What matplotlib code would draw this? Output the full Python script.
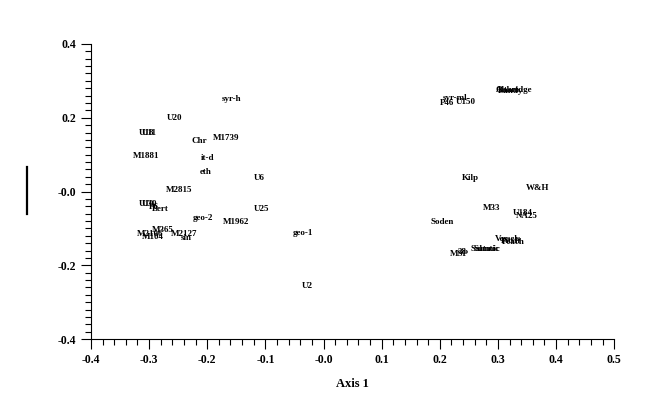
import numpy as np
import matplotlib.pyplot as plt
from matplotlib.lines import Line2D
from matplotlib.ticker import MultipleLocator, FuncFormatter

plt.rcParams['font.family'] = ['Liberation Serif', 'DejaVu Serif']
plt.rcParams['font.weight'] = 'bold'

names = ['syr-h', 'U20', 'U18', 'U11', 'Chr', 'M1739', 'M1881', 'it-d', 'eth', 'U6',
         'M2815', 'U10', 'U30', 'P6', 'Bert', 'U25', 'geo-2', 'M1962', 'geo-1',
         'M365', 'M2106', 'M104', 'M2127', 'sin', 'U2',
         'syr-ml', 'P46', 'U150', 'Altam', 'Oakridge', 'Lundy',
         'Kilp', 'W&H', 'M33', 'U184', 'NA25', 'Soden',
         'Vessels', 'Pitch', 'Peach', 'MSP', '38', 'Salmtic', 'Sutmic']
axis1 = [-0.159, -0.257, -0.304, -0.300, -0.214, -0.168, -0.305, -0.200, -0.202, -0.111,
         -0.249, -0.304, -0.299, -0.292, -0.280, -0.107, -0.207, -0.150, -0.035,
         -0.276, -0.299, -0.294, -0.240, -0.236, -0.028,
         0.226, 0.213, 0.244, 0.318, 0.327, 0.322,
         0.252, 0.368, 0.289, 0.343, 0.349, 0.204,
         0.317, 0.322, 0.327, 0.233, 0.238, 0.278, 0.282]
axis2 = [0.251, 0.199, 0.159, 0.159, 0.137, 0.145, 0.096, 0.091, 0.053, 0.037,
         0.004, -0.035, -0.035, -0.043, -0.048, -0.048, -0.072, -0.083, -0.113,
         -0.104, -0.114, -0.122, -0.116, -0.126, -0.256,
         0.254, 0.240, 0.243, 0.274, 0.274, 0.273,
         0.037, 0.009, -0.045, -0.058, -0.066, -0.083,
         -0.128, -0.133, -0.138, -0.170, -0.164, -0.156, -0.156]

fig = plt.figure(figsize=(6.64, 4.13), dpi=100)
ax = fig.add_axes([0.137, 0.179, 0.788, 0.7145])

for n, x, y in zip(names, axis1, axis2):
    ax.text(x, y, n, fontsize=6.5, fontweight='bold', ha='center', va='center')

ax.set_xlim(-0.4, 0.5)
ax.set_ylim(-0.4, 0.4)
ax.xaxis.set_major_locator(MultipleLocator(0.1))
ax.xaxis.set_minor_locator(MultipleLocator(0.02))
ax.yaxis.set_major_locator(MultipleLocator(0.2))
ax.yaxis.set_minor_locator(MultipleLocator(0.02))

def fmt(v, pos):
    s = f'{v:.1f}'
    return '-0.0' if abs(v) < 1e-9 else s

ax.xaxis.set_major_formatter(FuncFormatter(fmt))
ax.yaxis.set_major_formatter(FuncFormatter(fmt))
ax.tick_params(which='major', direction='out', length=7, width=0.8, labelsize=8.5)
ax.tick_params(which='minor', direction='out', length=4, width=0.8)
for s in ['top', 'right']:
    ax.spines[s].set_visible(False)
for lbl in ax.get_xticklabels() + ax.get_yticklabels():
    lbl.set_fontweight('bold')

ax.set_xlabel('Axis 1', fontsize=9, fontweight='bold', labelpad=9)

fig.add_artist(Line2D([27 / 664, 27 / 664], [1 - 167 / 413, 1 - 214 / 413],
                      color='black', linewidth=1.6, transform=fig.transFigure))

fig.savefig('out.png', dpi=100)
